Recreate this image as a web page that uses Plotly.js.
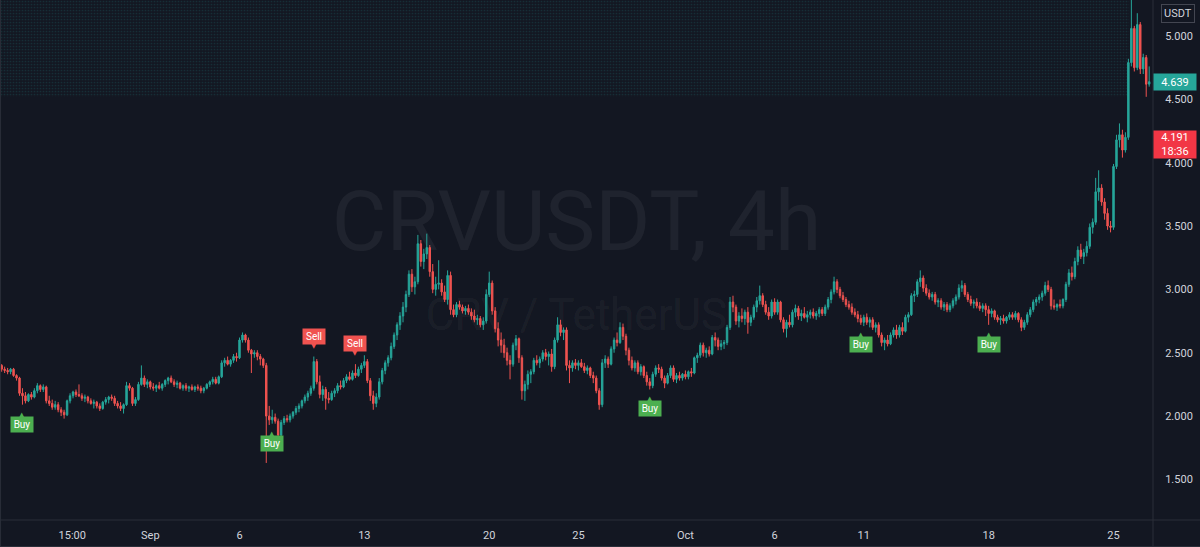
<!DOCTYPE html>
<html><head><meta charset="utf-8">
<script src="https://cdn.plot.ly/plotly-3.0.1.min.js"></script>
<style>html,body{margin:0;padding:0;background:#131722;}#chart{width:1200px;height:547px;}</style>
</head><body><div id="chart"></div>
<script>
// 4h candles, first candle 2021-08-23 16:00
const firstCandle = Date.UTC(2021, 7, 23, 16);
const candleHours = 4;

const opens = [
2.40,2.37,
2.36,2.35,2.37,2.32,2.30,2.18,
2.16,2.12,2.17,2.15,2.20,2.24,
2.21,2.23,2.12,2.10,2.07,2.09,
2.05,2.03,2.01,2.12,2.16,2.19,
2.17,2.16,2.14,2.15,2.12,2.10,
2.11,2.08,2.06,2.11,2.13,2.15,
2.14,2.10,2.08,2.06,2.09,2.24,
2.22,2.10,2.13,2.25,2.30,2.25,
2.27,2.23,2.22,2.24,2.22,2.25,
2.28,2.30,2.27,2.25,2.26,2.22,
2.24,2.22,2.23,2.21,2.23,2.22,
2.20,2.22,2.25,2.27,2.29,2.26,
2.31,2.42,2.44,2.41,2.44,2.47,
2.46,2.60,2.64,2.60,2.52,2.49,
2.50,2.47,2.45,2.40,2.00,1.97,
1.99,1.96,1.85,1.95,1.98,1.97,
2.00,2.03,2.06,2.08,2.12,2.15,
2.18,2.22,2.43,2.27,2.17,2.21,
2.14,2.13,2.18,2.20,2.24,2.23,
2.28,2.31,2.29,2.34,2.32,2.37,
2.40,2.43,2.28,2.16,2.10,2.15,
2.27,2.36,2.42,2.46,2.55,2.64,
2.72,2.79,2.86,2.96,3.12,3.02,
3.06,3.36,3.22,3.28,3.33,3.14,
3.00,3.04,3.05,2.98,2.92,3.11,
2.84,2.80,2.88,2.86,2.83,2.85,
2.82,2.79,2.76,2.77,2.72,2.75,
2.96,3.05,2.83,2.69,2.60,2.56,
2.50,2.44,2.41,2.56,2.61,2.46,
2.20,2.25,2.33,2.35,2.44,2.42,
2.45,2.50,2.47,2.49,2.39,2.60,
2.72,2.66,2.68,2.40,2.38,2.42,
2.40,2.42,2.39,2.36,2.38,2.32,
2.30,2.20,2.09,2.42,2.45,2.41,
2.53,2.60,2.58,2.70,2.63,2.52,
2.44,2.38,2.42,2.35,2.39,2.32,
2.27,2.24,2.33,2.38,2.37,2.30,
2.26,2.32,2.38,2.29,2.32,2.30,
2.33,2.31,2.35,2.34,2.46,2.48,
2.56,2.50,2.52,2.49,2.62,2.60,
2.55,2.57,2.58,2.70,2.90,2.86,
2.75,2.79,2.77,2.82,2.74,2.78,
2.86,2.91,2.95,2.88,2.82,2.79,
2.90,2.82,2.90,2.76,2.69,2.74,
2.72,2.82,2.85,2.79,2.81,2.78,
2.80,2.82,2.79,2.81,2.84,2.81,
2.86,2.92,2.98,3.06,3.00,2.95,
2.92,2.88,2.86,2.82,2.80,2.77,
2.74,2.78,2.74,2.76,2.70,2.72,
2.64,2.58,2.60,2.57,2.64,2.68,
2.64,2.70,2.67,2.78,2.80,2.95,
2.96,3.06,3.09,3.01,2.97,2.94,
2.96,2.90,2.91,2.86,2.88,2.84,
2.87,2.91,2.94,3.01,3.03,2.96,
2.92,2.89,2.90,2.87,2.85,2.87,
2.84,2.81,2.83,2.78,2.76,2.77,
2.75,2.78,2.80,2.78,2.81,2.76,
2.70,2.74,2.80,2.84,2.90,2.92,
2.94,2.97,3.03,3.00,2.87,2.86,
2.88,2.87,2.92,3.04,3.13,3.10,
3.22,3.31,3.26,3.29,3.34,3.49,
3.53,3.77,3.80,3.69,3.60,3.50,
3.49,3.97,4.18,4.22,4.10,4.20,
4.79,5.06,4.75,5.09,4.74,4.83,
4.62
];
const highs = [
2.41,2.39,
2.38,2.38,2.38,2.33,2.31,2.22,
2.19,2.18,2.19,2.22,2.26,2.25,
2.25,2.24,2.16,2.13,2.12,2.11,
2.07,2.05,2.13,2.18,2.20,2.21,
2.25,2.18,2.17,2.16,2.14,2.13,
2.12,2.10,2.12,2.15,2.16,2.17,
2.16,2.12,2.11,2.10,2.27,2.26,
2.23,2.15,2.27,2.40,2.32,2.29,
2.28,2.26,2.25,2.27,2.26,2.29,
2.31,2.32,2.29,2.28,2.27,2.25,
2.26,2.24,2.25,2.24,2.25,2.24,
2.23,2.26,2.28,2.31,2.31,2.32,
2.44,2.46,2.47,2.45,2.49,2.50,
2.62,2.66,2.65,2.62,2.53,2.52,
2.52,2.49,2.46,2.42,2.08,2.05,
2.02,1.98,1.97,2.00,2.01,2.02,
2.04,2.08,2.10,2.13,2.17,2.20,
2.24,2.47,2.45,2.32,2.24,2.23,
2.19,2.20,2.22,2.26,2.28,2.30,
2.33,2.35,2.36,2.41,2.39,2.42,
2.48,2.45,2.30,2.20,2.18,2.30,
2.38,2.44,2.48,2.58,2.66,2.74,
2.82,2.90,2.99,3.15,3.16,3.10,
3.43,3.39,3.32,3.44,3.35,3.20,
3.10,3.23,3.08,3.03,3.15,3.14,
2.88,2.90,2.91,2.88,2.87,2.88,
2.85,2.84,2.80,2.79,2.78,3.00,
3.14,3.07,2.86,2.74,2.66,2.61,
2.54,2.48,2.58,2.64,2.62,2.48,
2.28,2.36,2.37,2.46,2.48,2.47,
2.52,2.53,2.51,2.53,2.62,2.78,
2.76,2.70,2.70,2.44,2.44,2.45,
2.44,2.45,2.42,2.40,2.39,2.35,
2.32,2.22,2.45,2.48,2.47,2.55,
2.62,2.66,2.74,2.73,2.65,2.54,
2.47,2.44,2.44,2.41,2.40,2.35,
2.30,2.35,2.40,2.41,2.39,2.32,
2.34,2.40,2.40,2.34,2.35,2.34,
2.36,2.36,2.38,2.47,2.50,2.58,
2.58,2.54,2.55,2.64,2.66,2.62,
2.60,2.60,2.72,2.94,2.95,2.88,
2.82,2.85,2.84,2.86,2.80,2.88,
2.94,3.03,2.97,2.91,2.86,2.92,
2.93,2.92,2.91,2.78,2.76,2.80,
2.84,2.88,2.87,2.84,2.86,2.83,
2.84,2.85,2.83,2.86,2.86,2.88,
2.94,3.00,3.10,3.08,3.02,2.98,
2.94,2.91,2.89,2.85,2.83,2.80,
2.80,2.81,2.78,2.78,2.74,2.74,
2.66,2.62,2.64,2.66,2.70,2.72,
2.72,2.74,2.80,2.82,2.97,2.99,
3.08,3.15,3.11,3.04,3.00,2.98,
2.98,2.93,2.93,2.90,2.90,2.89,
2.93,2.96,3.04,3.07,3.05,2.98,
2.95,2.92,2.93,2.90,2.89,2.89,
2.87,2.85,2.84,2.80,2.79,2.80,
2.79,2.82,2.82,2.83,2.82,2.78,
2.76,2.82,2.86,2.92,2.94,2.96,
2.99,3.06,3.07,3.02,2.92,2.89,
2.92,2.93,3.06,3.16,3.18,3.25,
3.34,3.36,3.32,3.38,3.52,3.56,
3.88,3.94,3.83,3.72,3.64,3.54,
3.99,4.22,4.31,4.26,4.24,4.82,
5.30,5.08,5.18,5.11,4.86,4.85,
4.76
];
const lows = [
2.35,2.34,
2.33,2.33,2.31,2.28,2.16,2.09,
2.10,2.11,2.13,2.14,2.18,2.19,
2.19,2.10,2.08,2.05,2.05,2.03,
2.00,1.98,2.00,2.10,2.14,2.15,
2.15,2.12,2.11,2.10,2.09,2.06,
2.06,2.04,2.05,2.09,2.10,2.12,
2.08,2.06,2.04,2.02,2.08,2.20,
2.08,2.08,2.12,2.24,2.23,2.22,
2.21,2.20,2.19,2.21,2.20,2.23,
2.25,2.26,2.23,2.22,2.21,2.20,
2.20,2.19,2.20,2.19,2.20,2.18,
2.18,2.21,2.23,2.25,2.25,2.25,
2.30,2.39,2.40,2.39,2.42,2.43,
2.45,2.58,2.58,2.50,2.34,2.46,
2.44,2.40,2.38,1.63,1.93,1.94,
1.94,1.83,1.84,1.93,1.95,1.95,
1.98,2.01,2.03,2.06,2.10,2.12,
2.16,2.20,2.25,2.14,2.12,2.05,
2.10,2.12,2.15,2.18,2.21,2.22,
2.26,2.28,2.28,2.30,2.31,2.34,
2.38,2.26,2.12,2.05,2.07,2.13,
2.25,2.33,2.39,2.44,2.53,2.60,
2.68,2.74,2.82,2.94,2.98,2.96,
3.04,3.18,3.16,3.24,3.10,2.97,
2.95,3.00,2.95,2.90,2.88,2.80,
2.78,2.78,2.84,2.81,2.80,2.80,
2.76,2.74,2.72,2.70,2.68,2.73,
2.94,2.80,2.66,2.55,2.50,2.46,
2.40,2.29,2.39,2.52,2.42,2.13,
2.12,2.21,2.26,2.33,2.40,2.38,
2.43,2.44,2.40,2.35,2.37,2.58,
2.63,2.60,2.36,2.26,2.35,2.37,
2.36,2.38,2.34,2.33,2.30,2.26,
2.18,2.05,2.07,2.38,2.38,2.40,
2.50,2.55,2.57,2.60,2.48,2.40,
2.36,2.35,2.33,2.32,2.30,2.24,
2.21,2.22,2.31,2.34,2.28,2.22,
2.25,2.30,2.27,2.26,2.28,2.28,
2.29,2.29,2.31,2.33,2.42,2.46,
2.47,2.46,2.47,2.48,2.55,2.52,
2.52,2.53,2.56,2.68,2.82,2.72,
2.70,2.74,2.72,2.65,2.71,2.76,
2.82,2.88,2.86,2.80,2.76,2.77,
2.80,2.80,2.74,2.66,2.62,2.70,
2.70,2.78,2.76,2.75,2.77,2.74,
2.77,2.77,2.76,2.78,2.79,2.79,
2.84,2.89,2.96,2.97,2.93,2.90,
2.86,2.84,2.80,2.78,2.74,2.72,
2.71,2.72,2.70,2.68,2.66,2.62,
2.55,2.52,2.55,2.56,2.62,2.61,
2.62,2.64,2.66,2.74,2.79,2.90,
2.94,3.02,2.98,2.95,2.92,2.91,
2.88,2.86,2.84,2.83,2.82,2.82,
2.85,2.88,2.92,2.98,2.94,2.90,
2.87,2.85,2.85,2.83,2.82,2.79,
2.72,2.78,2.76,2.74,2.72,2.73,
2.73,2.76,2.76,2.76,2.74,2.67,
2.68,2.72,2.78,2.82,2.87,2.89,
2.91,2.95,2.98,2.84,2.84,2.83,
2.85,2.85,2.90,3.02,3.07,3.08,
3.19,3.24,3.20,3.26,3.32,3.44,
3.51,3.70,3.66,3.55,3.47,3.45,
3.47,3.95,4.12,4.04,4.08,4.18,
4.76,4.72,4.73,4.70,4.70,4.52,
4.60
];
const closes = [
2.37,2.36,
2.35,2.37,2.32,2.30,2.18,2.16,
2.12,2.17,2.15,2.20,2.24,2.21,
2.23,2.12,2.10,2.07,2.09,2.05,
2.03,2.01,2.12,2.16,2.19,2.17,
2.16,2.14,2.15,2.12,2.10,2.11,
2.08,2.06,2.11,2.13,2.15,2.14,
2.10,2.08,2.06,2.09,2.24,2.22,
2.10,2.13,2.25,2.30,2.25,2.27,
2.23,2.22,2.24,2.22,2.25,2.28,
2.30,2.27,2.25,2.26,2.22,2.24,
2.22,2.23,2.21,2.23,2.22,2.20,
2.22,2.25,2.27,2.29,2.26,2.31,
2.42,2.44,2.41,2.44,2.47,2.46,
2.60,2.64,2.60,2.52,2.49,2.50,
2.47,2.45,2.40,2.00,1.97,1.99,
1.96,1.85,1.95,1.98,1.97,2.00,
2.03,2.06,2.08,2.12,2.15,2.18,
2.22,2.43,2.27,2.17,2.21,2.14,
2.13,2.18,2.20,2.24,2.23,2.28,
2.31,2.29,2.34,2.32,2.37,2.40,
2.43,2.28,2.16,2.10,2.15,2.27,
2.36,2.42,2.46,2.55,2.64,2.72,
2.79,2.86,2.96,3.12,3.02,3.06,
3.36,3.22,3.28,3.33,3.14,3.00,
3.04,3.05,2.98,2.92,3.11,2.84,
2.80,2.88,2.86,2.83,2.85,2.82,
2.79,2.76,2.77,2.72,2.75,2.96,
3.05,2.83,2.69,2.60,2.56,2.50,
2.44,2.41,2.56,2.61,2.46,2.20,
2.25,2.33,2.35,2.44,2.42,2.45,
2.50,2.47,2.49,2.39,2.60,2.72,
2.66,2.68,2.40,2.38,2.42,2.40,
2.42,2.39,2.36,2.38,2.32,2.30,
2.20,2.09,2.42,2.45,2.41,2.53,
2.60,2.58,2.70,2.63,2.52,2.44,
2.38,2.42,2.35,2.39,2.32,2.27,
2.24,2.33,2.38,2.37,2.30,2.26,
2.32,2.38,2.29,2.32,2.30,2.33,
2.31,2.35,2.34,2.46,2.48,2.56,
2.50,2.52,2.49,2.62,2.60,2.55,
2.57,2.58,2.70,2.90,2.86,2.75,
2.79,2.77,2.82,2.74,2.78,2.86,
2.91,2.95,2.88,2.82,2.79,2.90,
2.82,2.90,2.76,2.69,2.74,2.72,
2.82,2.85,2.79,2.81,2.78,2.80,
2.82,2.79,2.81,2.84,2.81,2.86,
2.92,2.98,3.06,3.00,2.95,2.92,
2.88,2.86,2.82,2.80,2.77,2.74,
2.78,2.74,2.76,2.70,2.72,2.64,
2.58,2.60,2.57,2.64,2.68,2.64,
2.70,2.67,2.78,2.80,2.95,2.96,
3.06,3.09,3.01,2.97,2.94,2.96,
2.90,2.91,2.86,2.88,2.84,2.87,
2.91,2.94,3.01,3.03,2.96,2.92,
2.89,2.90,2.87,2.85,2.87,2.84,
2.81,2.83,2.78,2.76,2.77,2.75,
2.78,2.80,2.78,2.81,2.76,2.70,
2.74,2.80,2.84,2.90,2.92,2.94,
2.97,3.03,3.00,2.87,2.86,2.88,
2.87,2.92,3.04,3.13,3.10,3.22,
3.31,3.26,3.29,3.34,3.49,3.53,
3.77,3.80,3.69,3.60,3.50,3.49,
3.97,4.18,4.22,4.10,4.20,4.79,
5.06,4.75,5.09,4.74,4.83,4.62,
4.639
];

const buySignals = ['2021-08-24 20:00','2021-09-07 20:00','2021-09-29 00:00','2021-10-10 20:00','2021-10-18 00:00'];
const sellSignals = ['2021-09-10 04:00','2021-09-12 12:00'];

const tickDates = ['2021-08-27 15:00','2021-09-01','2021-09-06','2021-09-13','2021-09-20','2021-09-25','2021-10-01','2021-10-06','2021-10-11','2021-10-18','2021-10-25'];
const tickLabels = ['15:00','Sep','6','13','20','25','Oct','6','11','18','25'];
const priceTicks = [1.5, 2.0, 2.5, 3.0, 3.5, 4.0, 4.5, 5.0];

const lastPrice = 4.639;
const secondPrice = 4.191;
const secondPriceTimer = '18:36';

// shaded zone at top
const zoneBottom = 4.52;
const zoneTop = 5.30;
const zoneStart = '2021-08-23 13:45';
const zoneEnd = '2021-10-25 21:00';

const xRange = ['2021-08-23 13:45', '2021-10-27 05:08'];
const yRange = [1.1797, 5.2841];

const times = opens.map((_, i) => new Date(firstCandle + i * candleHours * 3600000).toISOString().slice(0, 16).replace('T', ' '));

const UP = '#26a69a', DOWN = '#ef5350', BG = '#131722', TXT = '#d1d4dc', LINE = '#2a2e39';
const FONT = 'Roboto, "Liberation Sans", sans-serif';

const traces = [
  {
    type: 'scatter', mode: 'lines', x: [zoneStart, zoneStart, zoneEnd, zoneEnd, zoneStart],
    y: [zoneBottom, zoneTop, zoneTop, zoneBottom, zoneBottom], fill: 'toself',
    fillcolor: 'rgba(0,0,0,0)',
    fillpattern: {shape: '.', fgcolor: 'rgba(38,166,154,0.16)', bgcolor: 'rgba(0,0,0,0)', size: 3, solidity: 0.25},
    line: {width: 0}, hoverinfo: 'skip', showlegend: false
  },
  {
    type: 'candlestick', x: times, open: opens, high: highs, low: lows, close: closes,
    increasing: {line: {color: UP, width: 1}, fillcolor: UP},
    decreasing: {line: {color: DOWN, width: 1}, fillcolor: DOWN},
    whiskerwidth: 0, hoverinfo: 'skip', showlegend: false
  }
];

const annotations = [];
buySignals.forEach(t => {
  const i = times.indexOf(t);
  annotations.push({x: t, y: lows[i], xref: 'x', yref: 'y', text: '▲', showarrow: false, yanchor: 'top', yshift: -4,
    font: {size: 7, color: '#4caf50', family: 'DejaVu Sans'}});
  annotations.push({x: t, y: lows[i], xref: 'x', yref: 'y', text: 'Buy', showarrow: false, yanchor: 'top', yshift: -11,
    bgcolor: '#4caf50', width: 22, height: 15, borderpad: 0, font: {size: 10, color: '#ffffff', family: FONT}});
});
sellSignals.forEach(t => {
  const i = times.indexOf(t);
  annotations.push({x: t, y: highs[i], xref: 'x', yref: 'y', text: '▼', showarrow: false, yanchor: 'bottom', yshift: 5,
    font: {size: 7, color: '#f05350', family: 'DejaVu Sans'}});
  annotations.push({x: t, y: highs[i], xref: 'x', yref: 'y', text: 'Sell', showarrow: false, yanchor: 'bottom', yshift: 12,
    bgcolor: '#f05350', width: 22, height: 15, borderpad: 0, font: {size: 10, color: '#ffffff', family: FONT}});
});
annotations.push({xref: 'paper', yref: 'paper', x: 1177.5 / 1153, y: 1 - 13 / 520, xanchor: 'center', yanchor: 'middle',
  text: 'USDT', showarrow: false, font: {size: 11, color: TXT, family: FONT}, bordercolor: '#434651', borderwidth: 1, borderpad: 2, bgcolor: BG});
annotations.push({xref: 'paper', yref: 'y', x: 1, y: lastPrice, xanchor: 'left', yanchor: 'middle', text: lastPrice.toFixed(3),
  showarrow: false, width: 42, height: 16, borderpad: 0, bgcolor: UP, font: {size: 11, color: '#ffffff', family: FONT}});
annotations.push({xref: 'paper', yref: 'y', x: 1, y: secondPrice, xanchor: 'left', yanchor: 'top', yshift: 8,
  text: secondPrice.toFixed(3) + '<br>' + secondPriceTimer,
  showarrow: false, width: 42, height: 27, borderpad: 0, bgcolor: '#f23645', font: {size: 11, color: '#ffffff', family: FONT}});

const shapes = [
  {type: 'rect', xref: 'paper', yref: 'paper', x0: 0.2, x1: 0.8, y0: 0.5115, y1: 0.6615, layer: 'below', line: {width: 0},
    fillcolor: 'rgba(0,0,0,0)', label: {text: 'CRVUSDT, 4h', textposition: 'middle center', font: {size: 84, color: 'rgba(255,255,255,0.055)', family: FONT}}},
  {type: 'rect', xref: 'paper', yref: 'paper', x0: 0.3, x1: 0.7, y0: 0.36, y1: 0.44, layer: 'below', line: {width: 0},
    fillcolor: 'rgba(0,0,0,0)', label: {text: 'CRV / TetherUS', textposition: 'middle center', font: {size: 44, color: 'rgba(255,255,255,0.055)', family: FONT}}},
  {type: 'line', xref: 'paper', yref: 'paper', x0: 0, x1: 1200 / 1153, y0: 0, y1: 0, line: {color: LINE, width: 1}},
  {type: 'line', xref: 'paper', yref: 'paper', x0: 1, x1: 1, y0: -27 / 520, y1: 1, line: {color: LINE, width: 1}},
  {type: 'line', xref: 'paper', yref: 'paper', x0: 0.0005, x1: 0.0005, y0: -27 / 520, y1: 1, line: {color: LINE, width: 1}},
  {type: 'line', xref: 'paper', yref: 'paper', x0: 0, x1: 1200 / 1153, y0: -26.5 / 520, y1: -26.5 / 520, line: {color: LINE, width: 1}}
];

const layout = {
  width: 1200, height: 547,
  margin: {l: 0, r: 47, t: 0, b: 27, pad: 0},
  paper_bgcolor: BG, plot_bgcolor: BG,
  showlegend: false, dragmode: false,
  font: {family: FONT, color: TXT, size: 11},
  xaxis: {
    type: 'date', range: xRange, tickmode: 'array', tickvals: tickDates, ticktext: tickLabels,
    showgrid: false, zeroline: false, showline: false,
    ticks: 'outside', ticklen: 5, tickcolor: 'rgba(0,0,0,0)',
    tickfont: {size: 11, color: TXT, family: FONT},
    rangeslider: {visible: false}, fixedrange: true
  },
  yaxis: {
    side: 'right', range: yRange, tickmode: 'array', tickvals: priceTicks, tickformat: '.3f',
    showgrid: false, zeroline: false, showline: false,
    ticks: 'outside', ticklen: 9, tickcolor: 'rgba(0,0,0,0)',
    tickfont: {size: 11, color: TXT, family: FONT}, fixedrange: true
  },
  annotations: annotations,
  shapes: shapes
};

Plotly.newPlot('chart', traces, layout, {displayModeBar: false, staticPlot: true});
</script>
</body></html>
